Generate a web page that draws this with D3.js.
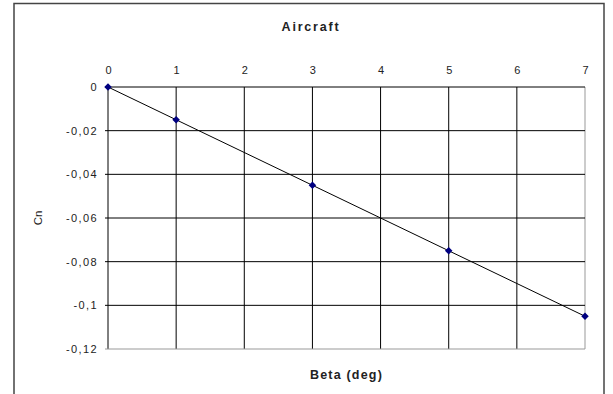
<!DOCTYPE html>
<html><head><meta charset="utf-8">
<script src="https://cdn.jsdelivr.net/npm/d3@7"></script>
<style>body{margin:0;background:#fff}svg{display:block}text{font-family:"Liberation Sans",Arial,sans-serif}</style>
</head><body><svg id="c" width="613" height="394"></svg>
<script>
const betaValues = [0, 1, 3, 5, 7];
const cnValues = [0, -0.015, -0.045, -0.075, -0.105];
const xTicks = [0, 1, 2, 3, 4, 5, 6, 7];
const yTicks = [0, -0.02, -0.04, -0.06, -0.08, -0.1, -0.12];
const chartTitle = "Aircraft";
const xTitle = "Beta (deg)";
const yTitle = "Cn";

const svg = d3.select("#c");
const L = 108, R = 585, T = 87, B = 349;
const x = d3.scaleLinear().domain([0, 7]).range([L, R]);
const y = d3.scaleLinear().domain([-0.12, 0]).range([B, T]);

svg.append("rect").attr("x", 14).attr("y", 3.5).attr("width", 590).attr("height", 400)
  .attr("fill", "#fff").attr("stroke", "#444").attr("stroke-width", 1.5);

// grid
svg.append("g").selectAll("line").data(xTicks).join("line")
  .attr("x1", d => x(d)).attr("x2", d => x(d)).attr("y1", T).attr("y2", B)
  .attr("stroke", d => d === 7 ? "#999" : "#000").attr("stroke-width", 1);
svg.append("g").selectAll("line").data(yTicks).join("line")
  .attr("x1", L - 3).attr("x2", R).attr("y1", d => y(d)).attr("y2", d => y(d))
  .attr("stroke", d => d === -0.12 ? "#999" : "#000").attr("stroke-width", 1);

const fmt = d => d === 0 ? "0" : String(d).replace(".", ",").replace(/0+$/, "");
svg.append("g").selectAll("text").data(xTicks).join("text")
  .attr("x", d => x(d) + 0.5).attr("y", 74).attr("text-anchor", "middle")
  .attr("font-size", 11).attr("fill", "#222").text(d => d);
svg.append("g").selectAll("text").data(yTicks).join("text")
  .attr("x", L - 10).attr("y", d => y(d) + 4).attr("text-anchor", "end")
  .attr("font-size", 11).attr("letter-spacing", 1.4).attr("fill", "#222").text(d => fmt(d));

const line = d3.line().x((d, i) => x(betaValues[i])).y(d => y(d));
svg.append("path").datum(cnValues).attr("d", line).attr("fill", "none")
  .attr("stroke", "#000").attr("stroke-width", 1);
svg.append("g").selectAll("path").data(cnValues).join("path")
  .attr("d", d3.symbol().type(d3.symbolDiamond2).size(36))
  .attr("transform", (d, i) => `translate(${x(betaValues[i])},${y(d)})`)
  .attr("fill", "#000080");

svg.append("text").attr("x", 311).attr("y", 31).attr("text-anchor", "middle")
  .attr("font-size", 12.5).attr("font-weight", "bold").attr("letter-spacing", 1.8).attr("fill", "#222").text(chartTitle);
svg.append("text").attr("x", (L + R) / 2).attr("y", 379).attr("text-anchor", "middle")
  .attr("font-size", 12.5).attr("font-weight", "bold").attr("letter-spacing", 1.2).attr("fill", "#222").text(xTitle);
svg.append("text").attr("transform", `translate(42,${(T + B) / 2}) rotate(-90)`).attr("text-anchor", "middle")
  .attr("font-size", 11.5).attr("fill", "#222").text(yTitle);
</script></body></html>
